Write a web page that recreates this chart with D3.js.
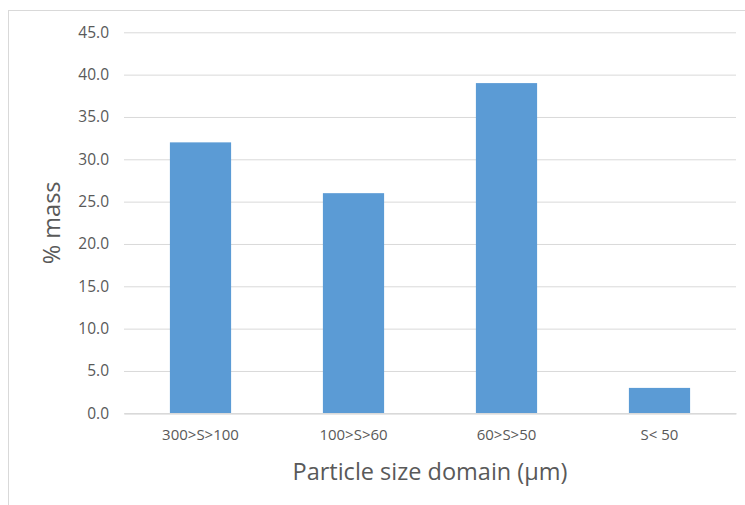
<!DOCTYPE html>
<html>
<head>
<meta charset="utf-8">
<script src="https://cdn.jsdelivr.net/npm/d3@7"></script>
<style>
  body { margin: 0; background: #fff; }
  svg { display: block; }
</style>
</head>
<body>
<div id="chart"></div>
<script>
const categories = ['300>S>100', '100>S>60', '60>S>50', 'S< 50'];
const massValues = [32.0, 26.0, 39.0, 3.0];
const yTicks = [0, 5, 10, 15, 20, 25, 30, 35, 40, 45];

const w = 745;
const h = 505;
const plotLeft = 124, plotRight = 736, plotTop = 32.3, plotBottom = 413.3;
const font = '"Open Sans", "Liberation Sans", sans-serif';

const svg = d3.select('#chart')
  .append('svg')
  .attr('width', w)
  .attr('height', h);

// chart frame
svg.append('rect')
  .attr('x', 8.5)
  .attr('y', 10.5)
  .attr('width', w)
  .attr('height', h)
  .attr('fill', 'none')
  .attr('stroke', '#d9d9d9')
  .attr('stroke-width', 1);

const xScale = d3.scaleBand()
  .domain(categories)
  .range([plotLeft, plotRight])
  .paddingInner(0.6)
  .paddingOuter(0.3);

const yScale = d3.scaleLinear()
  .domain([0, 45])
  .range([plotBottom, plotTop]);

// y axis (gridlines + labels)
const yAxis = svg.append('g')
  .attr('transform', 'translate(' + plotLeft + ',0)')
  .call(d3.axisLeft(yScale)
    .tickValues(yTicks)
    .tickFormat(d3.format('.1f'))
    .tickSize(-(plotRight - plotLeft))
    .tickPadding(15));
yAxis.select('.domain').remove();
yAxis.selectAll('line')
  .attr('stroke', '#d9d9d9');
yAxis.selectAll('text')
  .attr('fill', '#595959')
  .style('font-family', font)
  .style('font-size', '15.5px');

// bars
svg.selectAll('.bar')
  .data(massValues)
  .enter()
  .append('rect')
  .attr('class', 'bar')
  .attr('x', (d, i) => xScale(categories[i]))
  .attr('y', (d) => yScale(d))
  .attr('width', xScale.bandwidth())
  .attr('height', (d) => yScale(0) - yScale(d))
  .attr('fill', '#5b9bd5');

// x axis
const xAxis = svg.append('g')
  .attr('transform', 'translate(0,' + plotBottom + ')')
  .call(d3.axisBottom(xScale).tickSize(0).tickPadding(16));
xAxis.select('.domain')
  .attr('stroke', '#d9d9d9')
  .attr('stroke-width', 1.5);
xAxis.selectAll('text')
  .attr('fill', '#595959')
  .style('font-family', font)
  .style('font-size', '15px');

// axis titles
svg.append('text')
  .attr('x', 430)
  .attr('y', 480)
  .attr('text-anchor', 'middle')
  .attr('fill', '#595959')
  .style('font-family', font)
  .style('font-size', '23.5px')
  .text('Particle size domain (µm)');

svg.append('text')
  .attr('text-anchor', 'middle')
  .attr('transform', 'translate(60,' + (plotTop + plotBottom) / 2 + ')rotate(-90)')
  .attr('fill', '#595959')
  .style('font-family', font)
  .style('font-size', '23.5px')
  .text('% mass');
</script>
</body>
</html>
